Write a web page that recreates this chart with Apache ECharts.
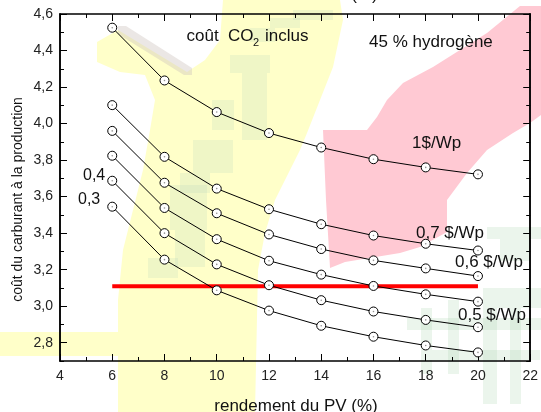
<!DOCTYPE html>
<html><head><meta charset="utf-8">
<script src="https://cdn.jsdelivr.net/npm/echarts@6/dist/echarts.min.js"></script>
<style>html,body{margin:0;padding:0;background:#fff}#c{width:541px;height:412px}</style>
</head><body><div id="c"></div>
<script>
var xValues = [6, 8, 10, 12, 14, 16, 18, 20];
var cost100 = [4.525, 4.236, 4.063, 3.948, 3.869, 3.805, 3.760, 3.722];
var cost070 = [4.101, 3.818, 3.644, 3.531, 3.449, 3.387, 3.342, 3.305];
var cost060 = [3.960, 3.676, 3.509, 3.393, 3.313, 3.251, 3.207, 3.165];
var cost050 = [3.824, 3.538, 3.367, 3.249, 3.173, 3.111, 3.065, 3.025];
var cost040 = [3.687, 3.400, 3.229, 3.115, 3.033, 2.971, 2.925, 2.885];
var cost030 = [3.545, 3.255, 3.087, 2.976, 2.893, 2.833, 2.785, 2.747];
var seriesNames = ['1$/Wp', '0,7 $/Wp', '0,6 $/Wp', '0,5 $/Wp', '0,4', '0,3'];
var redLevel = 3.109;
var redRange = [6, 20];
var yMajorTicks = [2.8, 3.0, 3.2, 3.4, 3.6, 3.8, 4.0, 4.2, 4.4, 4.6];
var yMinorTicks = [2.7, 2.9, 3.1, 3.3, 3.5, 3.7, 3.9, 4.1, 4.3, 4.5];

var FONT = "'Liberation Sans', Arial, sans-serif";
var chart = echarts.init(document.getElementById('c'), null, {renderer: 'canvas'});

function pairs(ys) { return xValues.map(function (x, i) { return [x, ys[i]]; }); }
var allSeries = [cost100, cost070, cost060, cost050, cost040, cost030];

var series = [];
series.push({
  type: 'line', name: 'ref', data: [[redRange[0], redLevel], [redRange[1], redLevel]],
  symbol: 'none', lineStyle: {color: '#ff0000', width: 4}, z: 3, silent: true
});
allSeries.forEach(function (ys, i) {
  series.push({
    type: 'line', name: seriesNames[i], data: pairs(ys),
    symbol: 'circle', symbolSize: 9,
    lineStyle: {color: '#000', width: 1},
    itemStyle: {color: '#fff', borderColor: '#000', borderWidth: 1},
    z: 4, silent: true, animation: false
  });
  series.push({
    type: 'scatter', data: pairs(ys), symbolSize: 1.6,
    itemStyle: {color: '#777'}, z: 6, silent: true, animation: false
  });
});

function poly(points, fill) {
  return {type: 'polygon', shape: {points: points}, style: {fill: fill}, z: -10, silent: true};
}
function rect(x, y, w, h, fill) {
  return {type: 'rect', shape: {x: x, y: y, width: w, height: h}, style: {fill: fill}, z: -9, silent: true};
}
function txt(t, x, y, size, align) {
  return {type: 'text', x: x, y: y, z: 20, silent: true,
    style: {text: t, font: size + 'px ' + FONT, fill: '#111', align: align || 'left', verticalAlign: 'middle'}};
}
var Y = '#ffffc9', P = '#ffc9d3', G = 'rgba(175,215,180,0.25)', GY = 'rgba(175,212,190,0.2)';

var graphics = [
  // yellow figure
  poly([[223,0],[340,0],[343,20],[333,67],[320,100],[307,133],[300,150],[290,170],[275,200],[265,233],[258,270],[255,412],
        [118,412],[118,300],[123,250],[133,210],[143,170],[150,130],[155,100],[145,75],[120,72],[97,62],[97,42],[118,30],
        [187,72],[205,60],[220,40]], Y),
  poly([[0,332],[118,332],[118,356],[0,356]], Y),
  // grey-beige pixel diagonal
  poly([[118,26],[126,26],[192,68],[192,75],[184,75],[118,34]], 'rgba(205,195,190,0.4)'),
  // pink block
  poly([[520,6],[541,6],[541,115],[530,123],[513,133],[487,150],[467,173],[447,200],[447,232],[420,247],[400,253],
        [345,262],[330,268],[326,200],[323,130],[367,130],[377,117],[387,100],[403,83],[433,67],[487,33]], P),
  // greenish pixels inside the yellow
  rect(293, 10, 40, 10, GY), rect(270, 18, 30, 10, GY), rect(250, 28, 25, 14, GY), rect(230, 55, 40, 18, GY),
  rect(242, 73, 25, 67, GY), rect(212, 100, 22, 30, GY), rect(193, 140, 40, 33, GY), rect(180, 173, 30, 20, GY),
  rect(170, 185, 37, 45, GY), rect(175, 230, 30, 37, GY), rect(148, 258, 30, 20, GY),
  // green lattice lower right
  rect(487, 227, 54, 12, G), rect(500, 239, 30, 22, G), rect(483, 288, 58, 20, G),
  rect(407, 318, 134, 12, G), rect(421, 308, 11, 66, G), rect(448, 300, 11, 74, G),
  rect(483, 308, 14, 96, G), rect(510, 308, 11, 96, G), rect(432, 350, 108, 10, G),
  // texts
  txt('coût  CO', 186.5, 36, 17), txt('2', 253, 43, 11), txt('inclus', 265, 36, 17),
  txt('45 % hydrogène', 369, 42, 17),
  txt(seriesNames[0], 412, 143, 17),
  txt(seriesNames[1], 416, 233, 17),
  txt(seriesNames[2], 455, 262, 17),
  txt(seriesNames[3], 458, 315, 17),
  txt(seriesNames[4], 83, 176, 16),
  txt(seriesNames[5], 78, 199.5, 16),
  txt('rendement du PV (%)', 296, 406.5, 17, 'center'),
  txt('rendement du PV (%)', 296, -4.5, 17, 'center'),
  {type: 'text', x: 18, y: 199.5, rotation: Math.PI / 2, z: 20, silent: true,
   style: {text: 'coût du carburant à la production', font: '14px ' + FONT, fill: '#111', align: 'center', verticalAlign: 'middle'}}
];

var axisLine = {show: true, onZero: false, lineStyle: {color: '#000', width: 1.5}};
function yAx(pos, ticks, len, labels) {
  return {
    type: 'value', position: pos, min: 2.7, max: 4.6,
    axisLine: axisLine,
    axisTick: {show: true, inside: true, length: len, customValues: ticks, lineStyle: {color: '#000', width: 1}},
    axisLabel: labels ? {show: true, customValues: ticks, margin: 7, fontSize: 14, fontFamily: FONT, color: '#222',
      formatter: function (v) { return v.toFixed(1).replace('.', ','); }} : {show: false},
    splitLine: {show: false}
  };
}

chart.setOption({
  animation: false,
  backgroundColor: '#fff',
  grid: {left: 60, right: 10, top: 14, bottom: 51, containLabel: false},
  xAxis: [
    {type: 'value', position: 'bottom', min: 4, max: 22, interval: 2,
     axisLine: axisLine,
     axisTick: {show: true, inside: true, length: 7, lineStyle: {color: '#000', width: 1}},
     minorTick: {show: true, splitNumber: 2, length: 4, lineStyle: {color: '#000', width: 1}},
     axisLabel: {margin: 8, fontSize: 14, fontFamily: FONT, color: '#222'},
     splitLine: {show: false}, minorSplitLine: {show: false}},
    {type: 'value', position: 'top', min: 4, max: 22, interval: 2,
     axisLine: axisLine,
     axisTick: {show: true, inside: true, length: 7, lineStyle: {color: '#000', width: 1}},
     minorTick: {show: true, splitNumber: 2, length: 4, lineStyle: {color: '#000', width: 1}},
     axisLabel: {show: false}, splitLine: {show: false}, minorSplitLine: {show: false}}
  ],
  yAxis: [
    yAx('left', yMajorTicks, 7, true),
    yAx('left', yMinorTicks, 4, false),
    yAx('right', yMajorTicks, 7, false),
    yAx('right', yMinorTicks, 4, false)
  ],
  graphic: graphics,
  series: series
});
</script>
</body></html>
